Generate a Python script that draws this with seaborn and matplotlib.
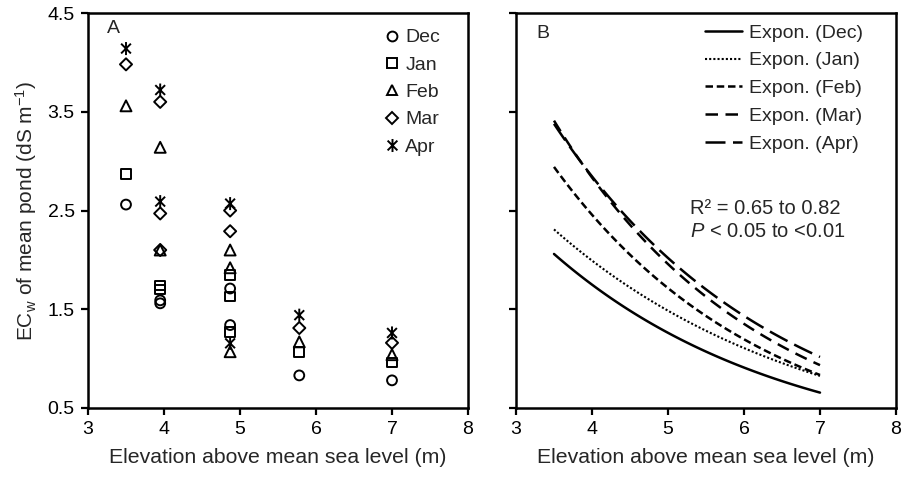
import numpy as np
import pandas as pd
import matplotlib
matplotlib.use("Agg")
import matplotlib.pyplot as plt
from matplotlib.path import Path
from matplotlib.lines import Line2D
import seaborn as sns

# ---------------- data ----------------
months = ["Dec", "Jan", "Feb", "Mar", "Apr"]
# pond elevations (m) for each observation site
site_elev = [3.5, 3.95, 3.95, 3.95, 4.87, 4.87, 4.87, 5.78, 7.0]
# EC_w (dS m-1) per month for each site (nan = not shown)
ec_dec = [2.56, 1.59, 1.56, np.nan, 1.71, 1.34, np.nan, 0.83, 0.78]
ec_jan = [2.87, 1.74, 1.70, np.nan, 1.85, 1.63, 1.27, 1.07, 0.96]
ec_feb = [3.56, 3.14, 2.10, np.nan, 2.10, 1.92, 1.07, 1.17, 1.04]
ec_mar = [3.98, 3.60, 2.47, 2.10, 2.50, 2.29, np.nan, 1.31, 1.16]
ec_apr = [4.14, 3.72, 2.59, np.nan, 2.57, np.nan, 1.155, 1.44, 1.26]

# exponential trend lines y = a * exp(b * x), x from 3.5 to 7.0
fit_a = [6.47, 6.46, 10.37, 12.45, 11.22]
fit_b = [-0.327, -0.294, -0.360, -0.370, -0.343]
fit_range = [3.5, 7.0]

x_ticks = [3, 4, 5, 6, 7, 8]
y_ticks = [0.5, 1.5, 2.5, 3.5, 4.5]

# ---------------- style ----------------
sns.set_theme(style="ticks")
plt.rcParams["font.family"] = ["Liberation Sans", "DejaVu Sans"]
plt.rcParams["mathtext.fontset"] = "custom"
plt.rcParams["mathtext.rm"] = "Liberation Sans"
plt.rcParams["mathtext.it"] = "Liberation Sans:italic"
plt.rcParams["axes.linewidth"] = 1.8
plt.rcParams["xtick.major.width"] = 1.6
plt.rcParams["ytick.major.width"] = 1.6
plt.rcParams["xtick.major.size"] = 5
plt.rcParams["ytick.major.size"] = 5
plt.rcParams["xtick.direction"] = "out"
plt.rcParams["ytick.direction"] = "out"

# asterisk-like marker: vertical line + X
star_path = Path(
    [(0, -1), (0, 1), (-0.75, -0.75), (0.75, 0.75), (-0.75, 0.75), (0.75, -0.75)],
    [Path.MOVETO, Path.LINETO, Path.MOVETO, Path.LINETO, Path.MOVETO, Path.LINETO],
)
markers = {"Dec": "o", "Jan": "s", "Feb": "^", "Mar": "D", "Apr": star_path}
sizes = {"Dec": 50, "Jan": 50, "Feb": 62, "Mar": 38, "Apr": 88}

rows = []
for m, vals in zip(months, [ec_dec, ec_jan, ec_feb, ec_mar, ec_apr]):
    for x, v in zip(site_elev, vals):
        if not np.isnan(v):
            rows.append({"Month": m, "Elevation": x, "EC": v})
df = pd.DataFrame(rows)

fig = plt.figure(figsize=(9.03, 4.78), dpi=100)
axA = fig.add_axes([88 / 903, 1 - 408 / 478, 380 / 903, 395 / 478])
axB = fig.add_axes([516 / 903, 1 - 408 / 478, 380 / 903, 395 / 478])

# ---------------- panel A ----------------
handles = []
for m in months:
    sub = df[df["Month"] == m]
    sns.scatterplot(data=sub, x="Elevation", y="EC", marker=markers[m], s=sizes[m],
                    facecolor="none", edgecolor="black", linewidth=1.4, ax=axA,
                    legend=False)
    handles.append(Line2D([], [], linestyle="none", marker=markers[m],
                          markersize=np.sqrt(sizes[m]), markerfacecolor="none",
                          markeredgecolor="black", markeredgewidth=1.4, label=m))

axA.set_xlim(3, 8)
axA.set_ylim(0.5, 4.5)
axA.set_xticks(x_ticks)
axA.set_yticks(y_ticks)
axA.set_xticklabels([str(t) for t in x_ticks])
axA.set_yticklabels([f"{t:.1f}" for t in y_ticks])
axA.tick_params(labelsize=14, colors="black", pad=4.5)
axA.set_xlabel("Elevation above mean sea level (m)", fontsize=15.3, labelpad=7)
axA.set_ylabel(r"EC$_\mathregular{w}$ of mean pond (dS m$^\mathregular{-1}$)",
               fontsize=15, labelpad=6)
axA.text(0.066, 0.96, "A", transform=axA.transAxes, fontsize=14,
         ha="center", va="center")
axA.legend(handles=handles, loc="upper left", bbox_to_anchor=(0.779, 0.96),
           frameon=False, fontsize=14, handlelength=0.8, handletextpad=0.3,
           labelspacing=0.5, borderpad=0, borderaxespad=0)

# ---------------- panel B ----------------
dash_styles = {"Dec": "-", "Jan": (0, (1, 1)), "Feb": (0, (3, 1.5)),
               "Mar": (0, (5, 3)), "Apr": (0, (8, 3))}
widths = {"Dec": 1.8, "Jan": 1.5, "Feb": 1.8, "Mar": 1.8, "Apr": 1.8}
xs = np.linspace(fit_range[0], fit_range[1], 120)
for m, a, b in zip(months, fit_a, fit_b):
    sns.lineplot(x=xs, y=a * np.exp(b * xs), color="black", linewidth=widths[m],
                 linestyle=dash_styles[m], ax=axB, label=f"Expon. ({m})")

axB.set_xlim(3, 8)
axB.set_ylim(0.5, 4.5)
axB.set_xticks(x_ticks)
axB.set_yticks(y_ticks)
axB.set_xticklabels([str(t) for t in x_ticks])
axB.set_yticklabels([])
axB.tick_params(labelsize=14, colors="black", pad=4.5)
axB.set_xlabel("Elevation above mean sea level (m)", fontsize=15.3, labelpad=7)
axB.set_ylabel("")
axB.text(0.071, 0.947, "B", transform=axB.transAxes, fontsize=14,
         ha="center", va="center")
axB.legend(loc="upper left", bbox_to_anchor=(0.497, 0.972), frameon=False,
           fontsize=14, handlelength=1.9, handletextpad=0.35, labelspacing=0.52,
           borderpad=0, borderaxespad=0)
axB.text(0.458, 0.505, "R² = 0.65 to 0.82", transform=axB.transAxes,
         fontsize=14.5, ha="left", va="center")
axB.text(0.458, 0.447, r"$\mathit{P}$ < 0.05 to <0.01", transform=axB.transAxes,
         fontsize=14.5, ha="left", va="center")

for ax in (axA, axB):
    for sp in ax.spines.values():
        sp.set_visible(True)
        sp.set_color("black")

fig.savefig("out.png", dpi=100)
